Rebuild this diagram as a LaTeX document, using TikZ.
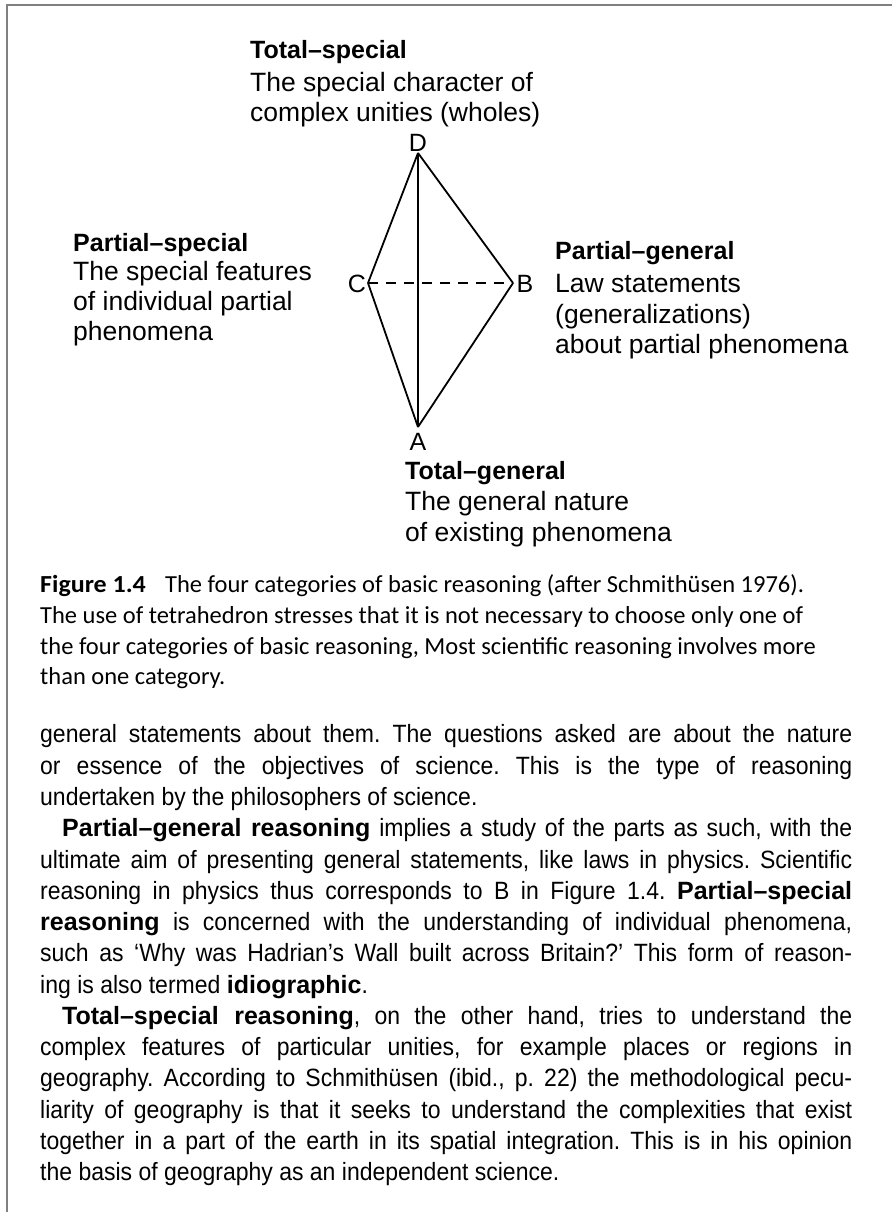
\documentclass[tikz,border=0pt]{standalone}
\usepackage{fontspec}
\setmainfont{Liberation Sans}
\newfontfamily\bodyfont[FakeStretch=0.92,BoldFeatures={FakeStretch=1.0}]{Liberation Sans}
\newfontfamily\capfont{Carlito}
\frenchspacing
\begin{document}
\begin{tikzpicture}[x=1pt,y=-1pt,
  lbl/.style={anchor=base west,inner sep=0pt,font=\fontsize{26.5}{30}\selectfont},
  lblb/.style={anchor=base west,inner sep=0pt,font=\fontsize{25}{30}\selectfont\bfseries},
  vlbl/.style={inner sep=0pt,font=\fontsize{25}{30}\selectfont},
  captext/.style={anchor=base west,inner sep=0pt,font=\capfont\fontsize{24.5}{26}\selectfont},
  bodytext/.style={anchor=base west,inner sep=0pt,font=\bodyfont\fontsize{25}{30}\selectfont},
  tetraline/.style={line width=1.8pt,line join=round},
  frameline/.style={draw=black!50,line width=2.2pt}]
\useasboundingbox (0,0) rectangle (892,1212);
\draw[frameline] (7,1212) -- (7,5) -- (892,5);
% tetrahedron
\coordinate (D) at (418,153);
\coordinate (C) at (368,283);
\coordinate (B) at (513,283);
\coordinate (A) at (418,427);
\draw[tetraline] (D) -- (C);
\draw[tetraline] (D) -- (B);
\draw[tetraline] (D) -- (A);
\draw[tetraline] (C) -- (A);
\draw[tetraline] (B) -- (A);
\draw[tetraline,dash pattern=on 10pt off 8pt] (C) -- (B);
\node[vlbl] (lD) at (418,143) {D};
\node[vlbl] (lC) at (357,284) {C};
\node[vlbl] (lB) at (525,284) {B};
\node[vlbl] (lA) at (418,442) {A};
% labels
\node[lblb] (ts1) at (250,59) {Total–special};
\node[lbl] (ts2) at (250,92) {The special character of};
\node[lbl] (ts3) at (250,122) {complex unities (wholes)};
\node[lblb] (ps1) at (73,251) {Partial–special};
\node[lbl] (ps2) at (73,280) {The special features};
\node[lbl] (ps3) at (73,310) {of individual partial};
\node[lbl] (ps4) at (73,340) {phenomena};
\node[lblb] (pg1) at (555,259) {Partial–general};
\node[lbl] (pg2) at (555,292) {Law statements};
\node[lbl] (pg3) at (555,323) {(generalizations)};
\node[lbl] (pg4) at (555,353) {about partial phenomena};
\node[lblb] (tg1) at (405,479) {Total–general};
\node[lbl] (tg2) at (405,510) {The general nature};
\node[lbl] (tg3) at (405,541) {of existing phenomena};
% caption
\node[captext] (c1) at (40,592) {\makebox[125pt][l]{\scalebox{1.06}[1]{\textbf{Figure 1.4}}}The four categories of basic reasoning (after Schmithüsen 1976).};
\node[captext] (c2) at (40,623) {The use of tetrahedron stresses that it is not necessary to choose only one of};
\node[captext] (c3) at (40,654) {the four categories of basic reasoning, Most scientific reasoning involves more};
\node[captext] (c4) at (40,684) {than one category.};
% body text
\node[bodytext] (b1) at (40,742) {\makebox[812pt][s]{general statements about them. The questions asked are about the nature}};
\node[bodytext] (b2) at (40,774) {\makebox[812pt][s]{or essence of the objectives of science. This is the type of reasoning}};
\node[bodytext] (b3) at (40,805) {undertaken by the philosophers of science.};
\node[bodytext] (b4) at (62,836) {\makebox[790pt][s]{\textbf{Partial–general reasoning} implies a study of the parts as such, with the}};
\node[bodytext] (b5) at (40,868) {\makebox[812pt][s]{ultimate aim of presenting general statements, like laws in physics. Scientific}};
\node[bodytext] (b6) at (40,899) {\makebox[812pt][s]{reasoning in physics thus corresponds to B in Figure 1.4. \textbf{Partial–special}}};
\node[bodytext] (b7) at (40,930) {\makebox[812pt][s]{\textbf{reasoning} is concerned with the understanding of individual phenomena,}};
\node[bodytext] (b8) at (40,961) {\makebox[812pt][s]{such as ‘Why was Hadrian’s Wall built across Britain?’ This form of reason-}};
\node[bodytext] (b9) at (40,993) {ing is also termed \textbf{idiographic}.};
\node[bodytext] (b10) at (62,1024) {\makebox[790pt][s]{\textbf{Total–special reasoning}, on the other hand, tries to understand the}};
\node[bodytext] (b11) at (40,1055) {\makebox[812pt][s]{complex features of particular unities, for example places or regions in}};
\node[bodytext] (b12) at (40,1086) {\makebox[812pt][s]{geography. According to Schmithüsen (ibid., p. 22) the methodological pecu-}};
\node[bodytext] (b13) at (40,1118) {\makebox[812pt][s]{liarity of geography is that it seeks to understand the complexities that exist}};
\node[bodytext] (b14) at (40,1149) {\makebox[812pt][s]{together in a part of the earth in its spatial integration. This is in his opinion}};
\node[bodytext] (b15) at (40,1180) {the basis of geography as an independent science.};
\end{tikzpicture}
\end{document}
